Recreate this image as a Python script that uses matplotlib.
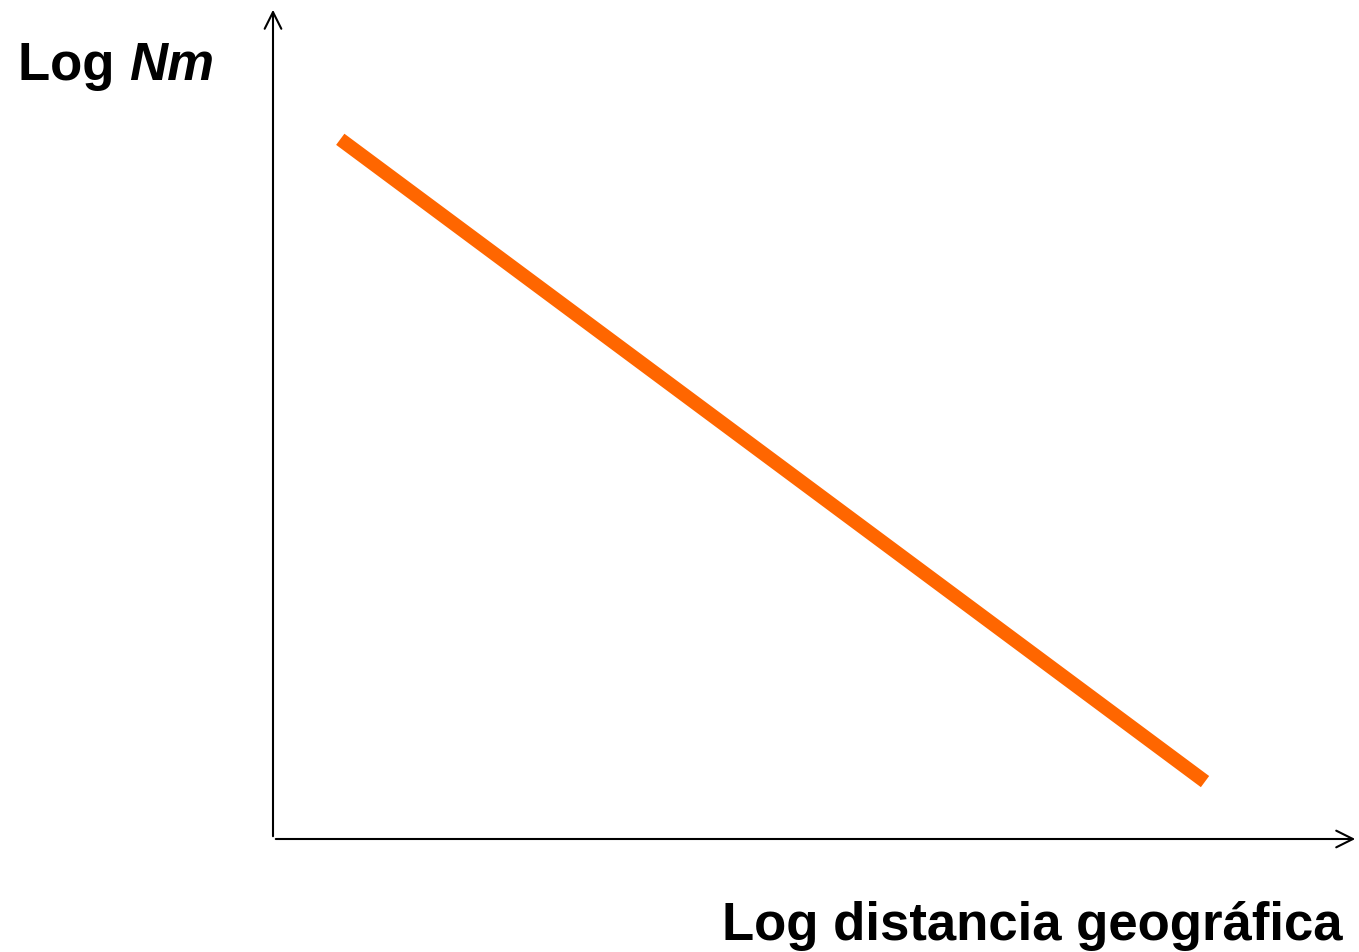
import matplotlib.pyplot as plt

# Data: simple decreasing relationship (schematic)
log_dist = [0.62, 8.59]
log_nm = [8.41, 0.69]

W, H = 1359, 953
fig = plt.figure(figsize=(W / 100, H / 100), dpi=100)

# axes box placed so the origin sits at pixel (273, 840)
x0, y0 = 273 / W, 1 - 840 / H
x1, y1 = 1358 / W, 1 - 8 / H
ax = fig.add_axes([x0, y0, x1 - x0, y1 - y0])
ax.set_xlim(0, 10)
ax.set_ylim(0, 10)
ax.axis('off')

ax.plot(log_dist, log_nm, color='#FF6600', lw=10, solid_capstyle='butt')

# axis arrows
arrow = dict(arrowstyle='->', color='black', lw=1.5, mutation_scale=30)
ax.annotate('', xy=(1, 0), xytext=(0, 0), xycoords='axes fraction', arrowprops=arrow)
ax.annotate('', xy=(0, 1), xytext=(0, 0), xycoords='axes fraction', arrowprops=arrow)

font = dict(family='Liberation Sans', fontweight='bold', fontsize=38)
t = fig.text(18 / W, 1 - 66 / H, 'Log ', va='center', ha='left', **font)
fig.canvas.draw()
bb = t.get_window_extent()
fig.text(bb.x1 / W, 1 - 66 / H, 'Nm', va='center', ha='left', style='italic', **font)
fig.text(1343 / W, 1 - 926 / H, 'Log distancia geográfica', va='center', ha='right', **font)

plt.savefig('out.png', dpi=100)
plt.close()
